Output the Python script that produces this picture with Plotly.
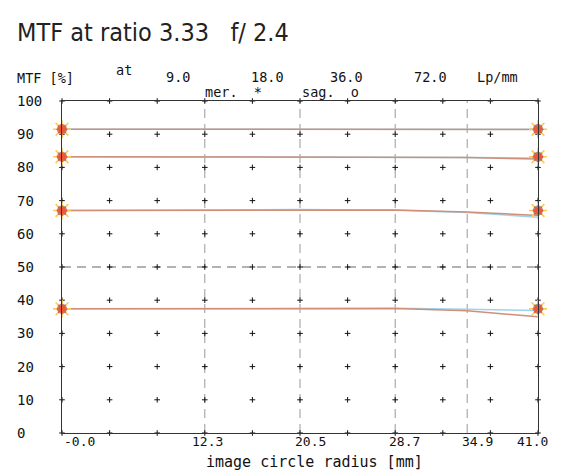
import plotly.graph_objects as go

# ---- data ----
radius = [0.0, 12.3, 20.5, 28.7, 34.9, 41.0]
freqs = ["9.0", "18.0", "36.0", "72.0"]
mer_9 = [91.5, 91.5, 91.5, 91.5, 91.5, 91.4]
sag_9 = [91.5, 91.5, 91.5, 91.5, 91.5, 91.5]
mer_18 = [83.2, 83.2, 83.2, 83.2, 83.0, 82.5]
sag_18 = [83.2, 83.2, 83.2, 83.1, 83.0, 82.8]
mer_36 = [67.0, 67.1, 67.3, 67.2, 66.6, 65.5]
sag_36 = [67.0, 67.1, 67.3, 67.1, 66.4, 65.0]
mer_72 = [37.4, 37.4, 37.6, 37.5, 36.8, 35.0]
sag_72 = [37.4, 37.5, 37.7, 37.6, 37.3, 36.9]
end_marks = [91.5, 83.2, 67.0, 37.4]
x_ticks = [0.0, 12.3, 20.5, 28.7, 34.9, 41.0]
x_tick_labels = ["-0.0", "12.3", "20.5", "28.7", "34.9", "41.0"]
y_ticks = [0, 10, 20, 30, 40, 50, 60, 70, 80, 90, 100]
grid_x = [0.0, 4.1, 8.2, 12.3, 16.4, 20.5, 24.6, 28.7, 32.8, 36.9, 41.0]
grid_y = [0, 10, 20, 30, 40, 50, 60, 70, 80, 90, 100]

# ---- style ----
OFF = 8  # default page body margin
PW, PH = 564, 476
W, H = PW - OFF, PH - OFF
L, R, T, B = 62, 538, 101, 433  # plot area in page pixels
ORANGE = "#CF8F78"
BLUE = "#9FD3EC"
MARK = "#E3642C"
FONT = "DejaVu Sans Mono"
TXT = "#111"
x_label_shift = [17, 3, 10, 9, 10, -6]

def px(x):
    return (x - L) / (R - L)

def py(y):
    return (B - y) / (B - T)

fig = go.Figure()

# dot grid
gx, gy = [], []
for yv in grid_y:
    for xv in grid_x:
        gx.append(xv)
        gy.append(yv)
fig.add_trace(go.Scatter(x=gx, y=gy, mode="markers",
                         marker=dict(symbol="cross-thin", size=4,
                                     line=dict(width=1, color="#111")),
                         hoverinfo="skip", showlegend=False, cliponaxis=False))

# dashed reference lines
shapes = []
for xv in x_ticks[1:5]:
    shapes.append(dict(type="line", xref="x", yref="y", x0=xv, x1=xv, y0=0, y1=100,
                       line=dict(color="#999", width=1, dash="9px,6px"), layer="below"))
shapes.append(dict(type="line", xref="x", yref="y", x0=0, x1=41, y0=50, y1=50,
                   line=dict(color="#666", width=1, dash="9px,6px"), layer="below"))

# curves
pairs = [(mer_9, sag_9), (mer_18, sag_18), (mer_36, sag_36), (mer_72, sag_72)]
for mer, sag in pairs:
    fig.add_trace(go.Scatter(x=radius, y=sag, mode="lines",
                             line=dict(color=BLUE, width=1.5),
                             hoverinfo="skip", showlegend=False))
    fig.add_trace(go.Scatter(x=radius, y=mer, mode="lines",
                             line=dict(color=ORANGE, width=1.5),
                             hoverinfo="skip", showlegend=False))

# end markers
mx, my = [], []
for v in end_marks:
    for xv in (radius[0], radius[-1]):
        mx.append(xv)
        my.append(v)
fig.add_trace(go.Scatter(x=mx, y=my, mode="markers",
                         marker=dict(symbol="asterisk-open", size=15,
                                     line=dict(width=1.6, color="#8a8a8a")),
                         hoverinfo="skip", showlegend=False, cliponaxis=False))
fig.add_trace(go.Scatter(x=mx, y=my, mode="markers",
                         marker=dict(symbol="circle", size=9, color=MARK,
                                     line=dict(width=1.2, color="#9a9a9a")),
                         hoverinfo="skip", showlegend=False, cliponaxis=False))
fig.add_trace(go.Scatter(x=mx, y=my, mode="markers",
                         marker=dict(symbol="asterisk-open", size=9,
                                     line=dict(width=1.4, color=MARK)),
                         hoverinfo="skip", showlegend=False, cliponaxis=False))

ann = []
# y labels
for yv in y_ticks:
    ann.append(dict(x=px(15), xref="paper", y=yv, yref="y", text=str(yv),
                    xanchor="left", yanchor="middle", showarrow=False,
                    font=dict(family=FONT, size=14, color=TXT)))
# x labels
for xv, lab, sh in zip(x_ticks, x_tick_labels, x_label_shift):
    ann.append(dict(x=xv, xref="x", y=py(442), yref="paper", text=lab,
                    xanchor="center", yanchor="middle", xshift=sh, showarrow=False,
                    font=dict(family=FONT, size=13, color=TXT)))
# header texts
hdr = [("MTF [%]", 15, 78, "left"), ("at", 114, 70, "left"),
       ("9.0", 178, 77, "center"), ("18.0", 267, 77, "center"),
       ("36.0", 346, 77, "center"), ("72.0", 430, 77, "center"),
       ("Lp/mm", 475, 77, "left"), ("mer.  *", 203, 92, "left"),
       ("sag.  o", 300, 92, "left")]
for t, x, y, a in hdr:
    ann.append(dict(x=px(x), xref="paper", y=py(y), yref="paper", text=t,
                    xanchor=a, yanchor="middle", showarrow=False,
                    font=dict(family=FONT, size=13.5, color=TXT)))
ann.append(dict(x=px(314), xref="paper", y=py(462), yref="paper",
                text="image circle radius [mm]", xanchor="center", yanchor="middle",
                showarrow=False, font=dict(family=FONT, size=15, color=TXT)))
ann.append(dict(x=px(15), xref="paper", y=py(32), yref="paper",
                text="MTF at ratio 3.33   f/ 2.4", xanchor="left", yanchor="middle",
                showarrow=False,
                font=dict(family="Liberation Sans Narrow, DejaVu Sans Condensed, DejaVu Sans",
                          size=25, color="#222")))

fig.update_layout(
    width=W, height=H,
    margin=dict(l=L - OFF, r=PW - R, t=T - OFF, b=PH - B, pad=0),
    paper_bgcolor="white", plot_bgcolor="white",
    showlegend=False,
    xaxis=dict(range=[0, 41], showgrid=False, zeroline=False, showticklabels=False,
               ticks="", showline=True, mirror=True, linecolor="#333", linewidth=1.2),
    yaxis=dict(range=[0, 100], showgrid=False, zeroline=False, showticklabels=False,
               ticks="", showline=True, mirror=True, linecolor="#333", linewidth=1.2),
    shapes=shapes,
    annotations=ann,
)

fig.write_html("out.html")
